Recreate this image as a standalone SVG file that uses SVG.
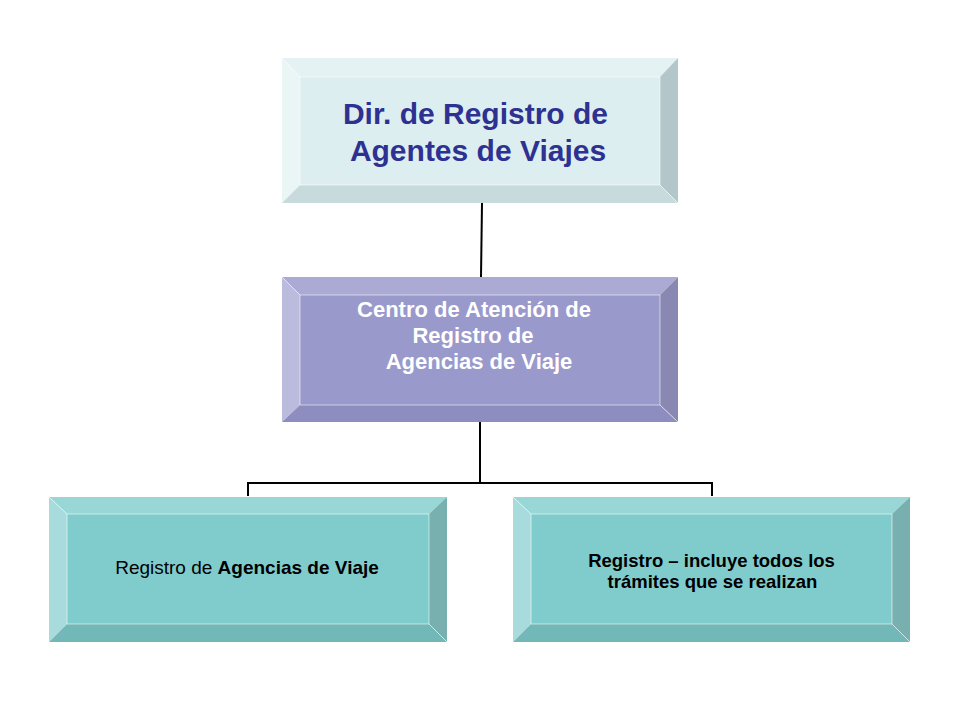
<svg xmlns="http://www.w3.org/2000/svg" width="960" height="720" viewBox="0 0 960 720">
<style>
.t{font-family:"Liberation Sans",Arial,sans-serif;font-weight:bold;text-anchor:middle}
.hl{fill:none;stroke:#ffffff;stroke-opacity:0.55;stroke-width:1}
.con{fill:none;stroke:#000000;stroke-width:2}
</style>
<rect width="960" height="720" fill="#ffffff"/>
<g id="connectors">
<path class="con" d="M482,203 L481,277"/>
<path class="con" d="M480,422 V483"/>
<path class="con" d="M248,496 V483 H712 V496"/>
</g>
<g id="node-dir">
<polygon points="282,58 678,58 660,77 300,77" fill="#E4F2F3"/>
<polygon points="282,58 300,77 300,185 282,203" fill="#EAF5F6"/>
<polygon points="678,58 678,203 660,185 660,77" fill="#B3C7CA"/>
<polygon points="282,203 300,185 660,185 678,203" fill="#C7DBDD"/>
<rect x="300" y="77" width="360" height="108" fill="#DDEEF0"/>
<path class="hl" d="M282,58 L300,77 M678,203 L660,185 M300,77 H660 V185 H300 Z"/>
<text class="t" font-size="30" fill="#2E3192" x="475.5" y="124">Dir. de Registro de</text>
<text class="t" font-size="30" fill="#2E3192" x="478" y="160.5">Agentes de Viajes</text>
</g>
<g id="node-centro">
<polygon points="282,277 678,277 660,295 300,295" fill="#AAAAD4"/>
<polygon points="282,277 300,295 300,405 282,422" fill="#BBBBDD"/>
<polygon points="678,277 678,422 660,405 660,295" fill="#8888B3"/>
<polygon points="282,422 300,405 660,405 678,422" fill="#8D8DC0"/>
<rect x="300" y="295" width="360" height="110" fill="#9999CC"/>
<path class="hl" d="M282,277 L300,295 M678,422 L660,405 M300,295 H660 V405 H300 Z"/>
<text class="t" font-size="22" fill="#ffffff" x="474" y="317">Centro de Atención de</text>
<text class="t" font-size="22" fill="#ffffff" x="473" y="343">Registro de</text>
<text class="t" font-size="22" fill="#ffffff" x="479" y="369">Agencias de Viaje</text>
</g>
<g id="node-registro-agencias">
<polygon points="49,497 447,497 429,514 67,514" fill="#99D6D6"/>
<polygon points="49,497 67,514 67,624 49,642" fill="#A8DCDC"/>
<polygon points="447,497 447,642 429,624 429,514" fill="#78AFAF"/>
<polygon points="49,642 67,624 429,624 447,642" fill="#73B8B8"/>
<rect x="67" y="514" width="362" height="110" fill="#80CCCC"/>
<path class="hl" d="M49,497 L67,514 M447,642 L429,624 M67,514 H429 V624 H67 Z"/>
<text class="t" font-size="19" fill="#000000" x="247" y="574"><tspan font-weight="normal">Registro de </tspan>Agencias de Viaje</text>
</g>
<g id="node-registro-tramites">
<polygon points="513,497 910,497 892,514 531,514" fill="#99D6D6"/>
<polygon points="513,497 531,514 531,624 513,642" fill="#A8DCDC"/>
<polygon points="910,497 910,642 892,624 892,514" fill="#78AFAF"/>
<polygon points="513,642 531,624 892,624 910,642" fill="#73B8B8"/>
<rect x="531" y="514" width="361" height="110" fill="#80CCCC"/>
<path class="hl" d="M513,497 L531,514 M910,642 L892,624 M531,514 H892 V624 H531 Z"/>
<text class="t" font-size="18.5" fill="#000000" x="711.5" y="567">Registro – incluye todos los</text>
<text class="t" font-size="18.5" fill="#000000" x="712.5" y="588">trámites que se realizan</text>
</g>
</svg>
